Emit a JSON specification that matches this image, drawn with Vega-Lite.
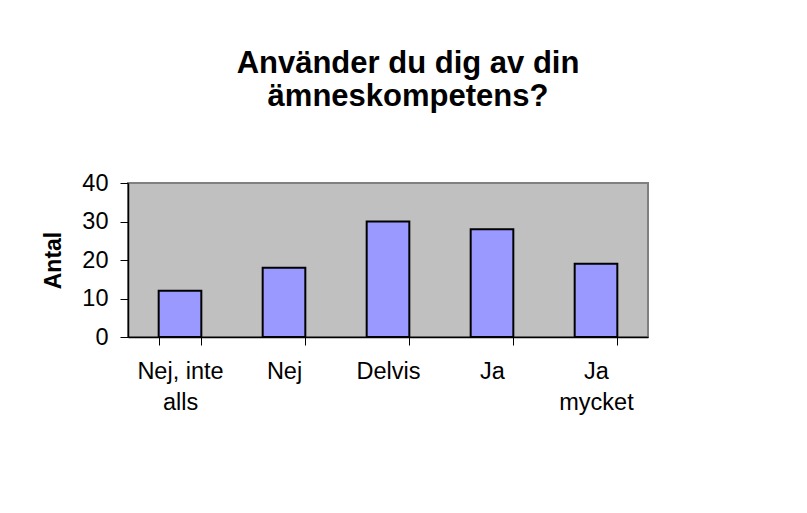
{
  "$schema": "https://vega.github.io/schema/vega-lite/v6.json",
  "autosize": "none",
  "width": 520,
  "height": 154,
  "padding": {"left": 128, "top": 183, "right": 159, "bottom": 176},
  "background": "white",
  "title": {
    "text": ["Använder du dig av din", "ämneskompetens?"],
    "font": "Liberation Sans",
    "fontSize": 31,
    "fontWeight": "bold",
    "color": "black",
    "anchor": "middle",
    "frame": "group",
    "dx": 20,
    "offset": 58,
    "lineHeight": 33
  },
  "data": {
    "values": [
      {"svar": "Nej, inte alls", "antal": 12},
      {"svar": "Nej", "antal": 18},
      {"svar": "Delvis", "antal": 30},
      {"svar": "Ja", "antal": 28},
      {"svar": "Ja mycket", "antal": 19}
    ]
  },
  "mark": {"type": "bar", "fill": "#9999FF", "stroke": "black", "strokeWidth": 2},
  "encoding": {
    "x": {
      "field": "svar",
      "type": "nominal",
      "sort": null,
      "scale": {"paddingInner": 0.59, "paddingOuter": 0.295},
      "axis": {
        "title": null,
        "labelAngle": 0,
        "tickBand": "extent",
        "labelExpr": "datum.value == 'Nej, inte alls' ? ['Nej, inte', 'alls'] : datum.value == 'Ja mycket' ? ['Ja', 'mycket'] : datum.value",
        "labelLineHeight": 31,
        "labelPadding": 14,
        "tickSize": 8
      }
    },
    "y": {
      "field": "antal",
      "type": "quantitative",
      "scale": {"domain": [0, 40], "nice": false},
      "axis": {
        "title": "Antal",
        "values": [0, 10, 20, 30, 40],
        "grid": false,
        "tickSize": 8,
        "labelPadding": 12,
        "titlePadding": 16,
        "titleFontSize": 23,
        "titleFontWeight": "bold"
      }
    }
  },
  "config": {
    "font": "Liberation Sans",
    "view": {"fill": "#C0C0C0", "stroke": "#808080", "strokeWidth": 2},
    "axis": {
      "labelFont": "Liberation Sans",
      "titleFont": "Liberation Sans",
      "labelFontSize": 23.5,
      "labelColor": "black",
      "titleColor": "black",
      "domainColor": "black",
      "domainWidth": 1.5,
      "tickColor": "black",
      "tickWidth": 1,
      "labelOverlap": false,
      "labelBound": false
    }
  }
}
